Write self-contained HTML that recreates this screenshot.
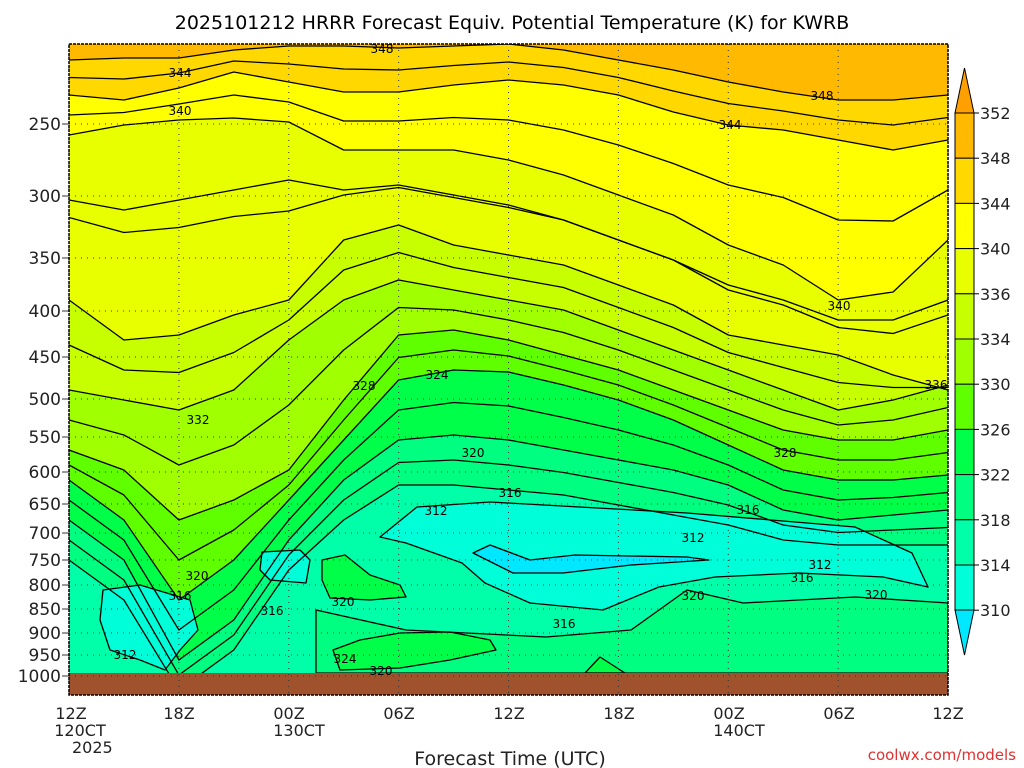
<!DOCTYPE html>
<html><head><meta charset="utf-8"><style>
html,body{margin:0;padding:0;background:#fff;}
svg{display:block;font-family:"DejaVu Sans","Liberation Sans",sans-serif;}
</style></head><body>
<svg id="s" width="1024" height="768" viewBox="0 0 1024 768" xmlns="http://www.w3.org/2000/svg">
<defs><clipPath id="cp"><rect x="69" y="44" width="879" height="629"/></clipPath></defs>
<g id="fill" clip-path="url(#cp)"><rect x="69" y="44" width="879" height="629" fill="#00FFA8"/></g>
<g id="lines" clip-path="url(#cp)" fill="none" stroke="#000" stroke-width="1.3" stroke-linejoin="round"></g>
<rect x="69" y="673" width="879" height="22" fill="#A0522D"/>
<g id="grid" stroke="#333" stroke-width="1" stroke-dasharray="1,5" fill="none"></g>
<rect x="69" y="44" width="879" height="651" fill="none" stroke="#000" stroke-width="1.5" stroke-dasharray="3,1"/>
<g font-size="12" text-anchor="middle" id="lab"></g>
<text x="512" y="29" font-size="19" text-anchor="middle">2025101212 HRRR Forecast Equiv. Potential Temperature (K) for KWRB</text>
<g font-size="17" text-anchor="end" fill="#222">
<text x="61" y="130">250</text><text x="61" y="202">300</text><text x="61" y="264">350</text><text x="61" y="317">400</text><text x="61" y="363">450</text><text x="61" y="405">500</text><text x="61" y="443">550</text><text x="61" y="478">600</text><text x="61" y="510">650</text><text x="61" y="539">700</text><text x="61" y="566">750</text><text x="61" y="591">800</text><text x="61" y="615">850</text><text x="61" y="639">900</text><text x="61" y="661">950</text><text x="61" y="682">1000</text>
</g>
<g font-size="16" text-anchor="middle" fill="#222">
<text x="71" y="719">12Z</text><text x="179" y="719">18Z</text><text x="289" y="719">00Z</text><text x="399" y="719">06Z</text><text x="509" y="719">12Z</text><text x="619" y="719">18Z</text><text x="729" y="719">00Z</text><text x="839" y="719">06Z</text><text x="948" y="719">12Z</text>
<text x="80" y="736">120CT</text><text x="72" y="753" text-anchor="start">2025</text>
<text x="299" y="736">130CT</text><text x="739" y="736">140CT</text>
</g>
<text x="510" y="765" font-size="19" text-anchor="middle" fill="#222">Forecast Time (UTC)</text>
<text x="1016" y="760" font-size="15" text-anchor="end" fill="#E03030">coolwx.com/models</text>
<g id="cb" stroke="#000" stroke-width="1"></g>
<g font-size="16" fill="#222" id="cbl"></g>
</svg>
<script>
var NS="http://www.w3.org/2000/svg";
function el(p,t,a,txt){var e=document.createElementNS(NS,t);for(var k in a)e.setAttribute(k,a[k]);if(txt)e.textContent=txt;document.getElementById(p).appendChild(e);return e;}
var xs=[];for(var i=0;i<17;i++)xs.push(69+i*54.94);
var L=[
["#00FF80",[560,600,690,650,570,520,485,485,490,495,505,515,525,540,545,545,545]],
["#00FF48",[520,560,660,620,540,480,440,435,440,450,460,470,485,510,520,515,510]],
["#60FF00",[480,520,600,560,500,440,380,370,372,385,400,420,445,470,480,480,475]],
["#A0FF00",[450,470,520,500,470,400,335,330,340,355,370,390,410,430,440,440,430]],
["#C8FF00",[390,400,410,390,340,300,280,290,300,310,330,350,370,390,410,400,385]],
["#E8FF00",[300,340,335,315,300,240,225,245,255,265,285,305,335,345,355,375,390]],
["#FFFF00",[135,125,120,118,122,150,150,150,160,175,195,215,245,265,300,292,240]],
["#FFD800",[95,100,88,72,82,92,92,85,80,85,95,112,125,130,140,150,140]],
["#FFBA00",[60,58,58,50,46,46,48,46,44,50,60,70,82,92,100,100,95]]];
function pts(ys){return ys.map(function(y,i){return xs[i].toFixed(1)+","+y;}).join(" ");}
L.forEach(function(l){
 el("fill","polygon",{points:"69,40 "+pts(l[1])+" 948,40",fill:l[0]});
 el("lines","polyline",{points:pts(l[1])});
});
for(var j=0;j<L.length-1;j++){var a=L[j][1],b=L[j+1][1];el("lines","polyline",{points:pts(a.map(function(v,i){return (v+b[i])/2;}))});}
el("lines","polyline",{points:pts([200,210,200,190,180,190,185,195,205,220,240,260,285,300,320,320,300])});
function P(c,p){el("fill","polygon",{points:p,fill:c});el("lines","polygon",{points:p});}
P("#00FF80","316,610 406,630 546,637 631,630 687,590 743,603 855,597 948,603 948,673 316,673");
P("#00FFD8","380,537 417,507 490,502 687,513 855,527 912,553 928,587 883,577 799,573 715,577 659,587 603,610 530,603 485,583 462,563 406,543");
P("#00E8FF","473,553 490,545 530,560 575,555 687,557 709,560 631,565 563,573 513,573");
P("#00FFD8","262,552 300,550 310,560 306,583 270,580 260,570");
P("#00FFD8","103,590 140,585 190,600 198,630 180,650 165,670 140,660 110,650 100,620");
P("#00FF48","322,560 345,555 370,575 400,585 406,597 370,600 330,598 322,580");
P("#00FF48","333,650 360,640 400,633 450,632 490,640 496,650 450,660 400,668 340,670");
P("#00FF48","585,673 600,657 625,673");
var yt=[124,196,258,311,357,399,437,472,504,533,560,585,609,633,655,676];
yt.forEach(function(y){el("grid","line",{x1:69,x2:948,y1:y,y2:y});el("grid","line",{x1:62,x2:69,y1:y,y2:y,"stroke-dasharray":"none"});});
xs.filter(function(x,i){return i%2==0;}).forEach(function(x){el("grid","line",{x1:x,x2:x,y1:44,y2:695});});
[[382,53,"348"],[180,77,"344"],[822,100,"348"],[180,115,"340"],[730,129,"344"],[839,310,"340"],[198,424,"332"],[936,389,"336"],[364,390,"328"],[437,379,"324"],[473,457,"320"],[510,497,"316"],[436,515,"312"],[748,514,"316"],[785,457,"328"],[693,542,"312"],[820,569,"312"],[802,582,"316"],[197,580,"320"],[180,600,"316"],[272,615,"316"],[343,606,"320"],[693,600,"320"],[876,599,"320"],[564,628,"316"],[125,659,"312"],[345,663,"324"],[381,675,"320"]].forEach(function(t){
 el("lab","text",{x:t[0],y:t[1]},t[2]);});
var cc=["#FFBA00","#FFD800","#FFFF00","#E8FF00","#C8FF00","#A0FF00","#60FF00","#00FF48","#00FF80","#00FFA8","#00FFD8"];
var lab=["352","348","344","340","336","334","330","326","322","318","314","310"];
el("cb","polygon",{points:"955,113 964.5,68 974,113",fill:"#FFA000"});
for(var i=0;i<11;i++)el("cb","rect",{x:955,y:113+i*45.2,width:19,height:45.2,fill:cc[i]});
el("cb","polygon",{points:"955,610 964.5,655 974,610",fill:"#00E8FF"});
for(var i=0;i<12;i++){var y=113+i*45.2;el("cb","line",{x1:974,x2:979,y1:y,y2:y});el("cbl","text",{x:980,y:y+6},lab[i]);}
</script>
</body></html>
